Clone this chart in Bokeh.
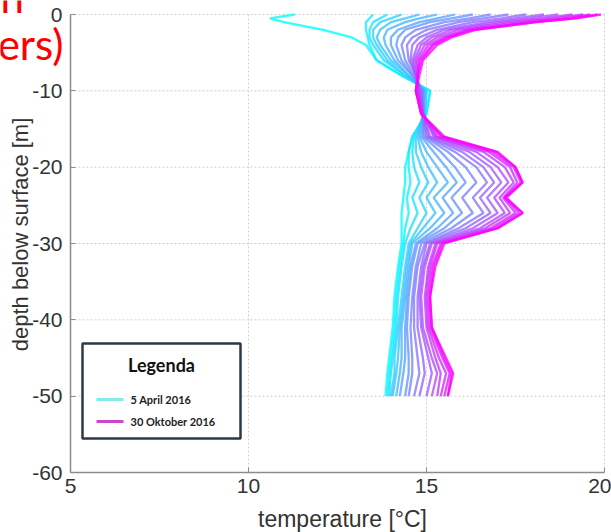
import math
from bokeh.plotting import figure
from bokeh.models import ColumnDataSource, BoxAnnotation, Label, FixedTicker, Range1d
from bokeh.embed import file_html
from bokeh.resources import INLINE

# ---------------- data ----------------
depth_m = [0, -0.5, -1, -2, -3, -4, -6, -8, -10, -13, -16, -18, -20,
           -22, -24, -26, -28, -30, -33, -37, -41, -45, -47, -50]

# temperature profiles [°C], from 5 April 2016 (first) to 30 Oktober 2016 (last)
profile_01 = [11.3, 10.6, 11.0, 12.1, 12.9, 13.3, 13.6, 14.3, 15.1, 15.0, 14.6, 14.5, 14.4,
              14.4, 14.35, 14.3, 14.3, 14.3, 14.2, 14.1, 14.05, 13.95, 13.9, 13.85]
profile_02 = [13.5, 13.4, 13.3, 13.3, 13.35, 13.4, 13.6, 14.3, 15.1, 15.0, 14.6, 14.5, 14.5,
              14.55, 14.45, 14.5, 14.4, 14.35, 14.25, 14.15, 14.1, 14.0, 13.95, 13.9]
profile_03 = [13.9, 13.7, 13.5, 13.4, 13.4, 13.5, 13.8, 14.4, 15.0, 14.95, 14.65, 14.6, 14.65,
              14.8, 14.6, 14.75, 14.55, 14.4, 14.3, 14.2, 14.15, 14.05, 14.0, 13.95]
profile_04 = [14.3, 14.0, 13.7, 13.5, 13.5, 13.6, 13.9, 14.4, 15.0, 14.95, 14.7, 14.7, 14.85,
              15.05, 14.8, 15.0, 14.75, 14.5, 14.4, 14.3, 14.2, 14.1, 14.1, 14.0]
profile_05 = [14.8, 14.4, 14.0, 13.7, 13.6, 13.7, 14.0, 14.5, 14.95, 14.9, 14.75, 14.85, 15.05,
              15.3, 15.0, 15.25, 14.9, 14.55, 14.45, 14.35, 14.25, 14.2, 14.15, 14.05]
profile_06 = [15.3, 14.8, 14.4, 13.9, 13.8, 13.85, 14.1, 14.5, 14.95, 14.9, 14.8, 15.0, 15.3,
              15.6, 15.2, 15.5, 15.1, 14.6, 14.5, 14.4, 14.3, 14.3, 14.25, 14.15]
profile_07 = [15.8, 15.3, 14.8, 14.2, 14.0, 14.0, 14.2, 14.6, 14.9, 14.95, 14.85, 15.2, 15.55,
              15.85, 15.45, 15.75, 15.3, 14.7, 14.55, 14.45, 14.4, 14.4, 14.35, 14.25]
profile_08 = [16.3, 15.7, 15.1, 14.4, 14.2, 14.15, 14.3, 14.6, 14.9, 14.9, 14.9, 15.4, 15.8,
              16.1, 15.7, 16.0, 15.5, 14.75, 14.6, 14.5, 14.45, 14.5, 14.5, 14.4]
profile_09 = [16.8, 16.2, 15.5, 14.7, 14.4, 14.3, 14.4, 14.65, 14.9, 14.9, 14.95, 15.6, 16.1,
              16.4, 16.0, 16.3, 15.7, 14.85, 14.7, 14.6, 14.55, 14.6, 14.6, 14.5]
profile_10 = [17.3, 16.6, 15.9, 15.0, 14.6, 14.45, 14.5, 14.7, 14.85, 14.9, 15.0, 15.8, 16.4,
              16.7, 16.3, 16.6, 15.9, 14.95, 14.75, 14.65, 14.65, 14.75, 14.8, 14.65]
profile_11 = [17.8, 17.1, 16.3, 15.3, 14.8, 14.6, 14.55, 14.7, 14.85, 14.9, 15.05, 16.0, 16.6,
              16.9, 16.5, 16.8, 16.1, 15.0, 14.85, 14.75, 14.75, 14.9, 14.95, 14.8]
profile_12 = [18.3, 17.5, 16.7, 15.5, 15.0, 14.75, 14.6, 14.7, 14.8, 14.9, 15.1, 16.2, 16.8,
              17.1, 16.7, 17.0, 16.3, 15.1, 14.9, 14.8, 14.85, 15.05, 15.15, 15.0]
profile_13 = [18.7, 17.9, 17.0, 15.7, 15.15, 14.85, 14.65, 14.7, 14.8, 14.9, 15.2, 16.4, 17.0,
              17.3, 16.9, 17.2, 16.5, 15.15, 14.95, 14.85, 14.9, 15.15, 15.3, 15.15]
profile_14 = [19.1, 18.3, 17.3, 15.9, 15.3, 14.95, 14.7, 14.75, 14.75, 14.9, 15.25, 16.6, 17.2,
              17.45, 17.05, 17.35, 16.65, 15.25, 15.05, 14.95, 15.0, 15.25, 15.4, 15.3]
profile_15 = [19.4, 18.6, 17.6, 16.1, 15.45, 15.05, 14.75, 14.75, 14.75, 14.9, 15.3, 16.75, 17.35,
              17.55, 17.15, 17.5, 16.8, 15.3, 15.1, 15.0, 15.05, 15.35, 15.55, 15.4]
profile_16 = [19.6, 18.9, 17.9, 16.2, 15.55, 15.15, 14.8, 14.75, 14.7, 14.85, 15.4, 16.85, 17.45,
              17.65, 17.2, 17.6, 16.9, 15.4, 15.15, 15.05, 15.1, 15.45, 15.65, 15.5]
profile_17 = [19.8, 19.1, 18.0, 16.3, 15.6, 15.2, 14.85, 14.75, 14.7, 14.85, 15.45, 16.95, 17.5,
              17.7, 17.25, 17.7, 17.0, 15.45, 15.2, 15.1, 15.15, 15.5, 15.7, 15.6]
profile_18 = [19.9, 19.2, 18.1, 16.4, 15.7, 15.3, 14.9, 14.8, 14.7, 14.85, 15.5, 17.0, 17.5,
              17.7, 17.2, 17.7, 17.0, 15.5, 15.25, 15.1, 15.15, 15.55, 15.75, 15.6]

profiles = [profile_01, profile_02, profile_03, profile_04, profile_05, profile_06,
            profile_07, profile_08, profile_09, profile_10, profile_11, profile_12,
            profile_13, profile_14, profile_15, profile_16, profile_17, profile_18]

x_ticks = [5, 10, 15, 20]
y_ticks = [0, -10, -20, -30, -40, -50, -60]
x_title = "temperature [°C]"
y_title = "depth below surface [m]"
legend_title = "Legenda"
legend_labels = ["5  April 2016", "30 Oktober 2016"]

# ---------------- layout geometry ----------------
W, H = 611, 532
AX_LEFT, AX_RIGHT, AX_TOP, AX_BOTTOM = 70, 604, 14, 472   # pixel box of the axes
X0, X1 = 5, 20
Y0, Y1 = -60, 0
px_per_x = (AX_RIGHT - AX_LEFT) / (X1 - X0)
px_per_y = (AX_BOTTOM - AX_TOP) / (Y1 - Y0)

def fx(px):  # screen px -> data x
    return X0 + (px - AX_LEFT) / px_per_x

def fy(py):  # screen px -> data y
    return Y1 - (py - AX_TOP) / px_per_y

# ---------------- styling ----------------
def cool(f):
    r = int(round(255 * f))
    g = int(round(255 * (1 - f)))
    return "#%02x%02x%02x" % (r, g, 255)

n = len(profiles)
colors = [cool(i / (n - 1)) for i in range(n)]

src = ColumnDataSource(data=dict(
    xs=profiles,
    ys=[depth_m] * n,
    color=colors,
))

# the frame covers the whole canvas; axes are pinned at the data edges
p = figure(width=W, height=H, x_range=Range1d(fx(0), fx(W)), y_range=Range1d(fy(H), fy(0)),
           output_backend="svg", toolbar_location=None,
           min_border_left=0, min_border_right=0, min_border_top=0, min_border_bottom=0)
p.background_fill_color = "white"
p.border_fill_color = "white"
p.outline_line_color = None
p.grid.visible = False

# dotted grid limited to the axes box
grid_kw = dict(line_color="#cfcfcf", line_dash="2 2", line_width=1)
p.segment(x0=x_ticks, y0=[Y0] * len(x_ticks), x1=x_ticks, y1=[Y1] * len(x_ticks), **grid_kw)
p.segment(x0=[X0] * len(y_ticks), y0=y_ticks, x1=[X1] * len(y_ticks), y1=y_ticks, **grid_kw)

p.multi_line(xs="xs", ys="ys", line_color="color", source=src,
             line_width=2.3, line_alpha=0.8)

xa, ya = p.xaxis[0], p.yaxis[0]
xa.ticker = FixedTicker(ticks=x_ticks)
ya.ticker = FixedTicker(ticks=y_ticks)
xa.major_label_overrides = {t: str(t) for t in x_ticks}
ya.major_label_overrides = {t: str(t) for t in y_ticks}
xa.bounds = (X0, X1)
ya.bounds = (Y0, Y1)
xa.fixed_location = Y0
ya.fixed_location = X0
for ax in (xa, ya):
    ax.major_label_text_font = "Liberation Sans"
    ax.major_label_text_font_size = "21px"
    ax.major_label_text_color = "#333333"
    ax.axis_line_color = "#8c8c8c"
    ax.axis_line_width = 1.5
    ax.major_tick_in = 5
    ax.major_tick_out = 0
    ax.major_tick_line_color = "#8c8c8c"
    ax.minor_tick_line_color = None
xa.major_label_standoff = 6
ya.major_label_standoff = 8

# axis titles (placed at the reference's positions)
p.add_layout(Label(x=fx(342), y=fy(518), text=x_title, text_align="center",
                   text_baseline="middle", text_font="Liberation Sans",
                   text_font_size="23px", text_color="#333333"))
p.add_layout(Label(x=fx(20), y=fy(234), text=y_title, text_align="center",
                   text_baseline="middle", angle=math.pi / 2, text_font="Liberation Sans",
                   text_font_size="22px", text_color="#333333"))

# ---------------- legend (manual, matching the boxed "Legenda") ----------------
p.add_layout(BoxAnnotation(left=fx(82), right=fx(240), top=fy(343), bottom=fy(438),
                           fill_color="white", fill_alpha=1.0,
                           line_color="#2b3a4a", line_width=2.5, line_alpha=1.0))
p.add_layout(Label(x=fx(161), y=fy(364), text=legend_title, text_align="center",
                   text_baseline="middle", text_font="Lato", text_font_style="bold",
                   text_font_size="18px", text_color="#111111"))
p.add_layout(BoxAnnotation(left=fx(96), right=fx(123), top=fy(397.5), bottom=fy(400.5),
                           fill_color="#80ecec", fill_alpha=1.0, line_color=None))
p.add_layout(BoxAnnotation(left=fx(96), right=fx(123), top=fy(419.5), bottom=fy(422.5),
                           fill_color="#cc44cc", fill_alpha=1.0, line_color=None))
p.add_layout(Label(x=fx(130), y=fy(399), text=legend_labels[0], text_baseline="middle",
                   text_font="Lato", text_font_style="bold", text_font_size="11px",
                   text_color="#222222"))
p.add_layout(Label(x=fx(130), y=fy(421), text=legend_labels[1], text_baseline="middle",
                   text_font="Lato", text_font_style="bold", text_font_size="11px",
                   text_color="#222222"))

# ---------------- cut-off red slide text at top-left ----------------
p.add_layout(Label(x=fx(63), y=fy(43), text="ers)", text_align="right",
                   text_baseline="middle", text_font="Lato",
                   text_font_size="42px", text_color="#ff0000"))
p.add_layout(Label(x=fx(0), y=fy(-4), text="n", text_align="left",
                   text_baseline="middle", text_font="Lato",
                   text_font_size="42px", text_color="#ff0000"))

open("out.html", "w").write(file_html(p, INLINE))
